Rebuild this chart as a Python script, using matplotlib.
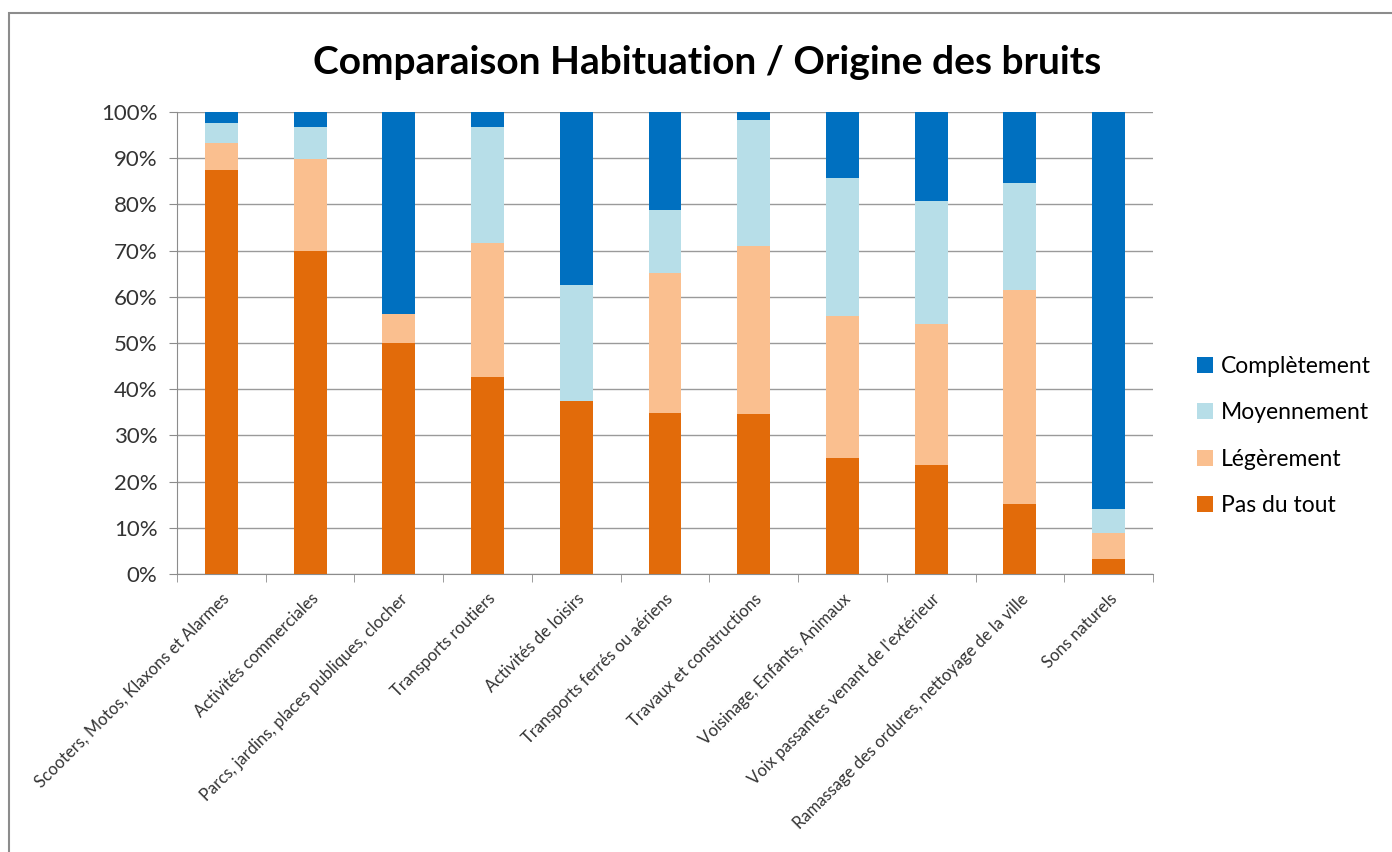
import matplotlib.pyplot as plt
import matplotlib.patches as mpatches
import numpy as np

plt.rcParams['font.family'] = ['Lato', 'DejaVu Sans']

categories = [
    "Scooters, Motos, Klaxons et Alarmes",
    "Activités commerciales",
    "Parcs, jardins, places publiques, clocher",
    "Transports routiers",
    "Activités de loisirs",
    "Transports ferrés ou aériens",
    "Travaux et constructions",
    "Voisinage, Enfants, Animaux",
    "Voix passantes venant de l'extérieur",
    "Ramassage des ordures, nettoyage de la ville",
    "Sons naturels",
]

# shares in %
pas_du_tout = [87.4, 70.0, 49.9, 42.6, 37.5, 34.8, 34.6, 25.2, 23.5, 15.2, 3.3]
legerement = [5.8, 19.9, 6.3, 29.0, 0.0, 30.3, 36.5, 30.7, 30.7, 46.3, 5.5]
moyennement = [4.4, 6.9, 0.0, 25.2, 25.0, 13.7, 27.1, 29.9, 26.5, 23.2, 5.3]
completement = [2.4, 3.2, 43.8, 3.2, 37.5, 21.2, 1.8, 14.2, 19.3, 15.3, 85.9]

series = [
    ("Pas du tout", pas_du_tout, "#E26B0A"),
    ("Légèrement", legerement, "#FABF8F"),
    ("Moyennement", moyennement, "#B7DEE8"),
    ("Complètement", completement, "#0070C0"),
]

fig = plt.figure(figsize=(13.92, 8.52), dpi=100)
ax = fig.add_axes([177 / 1392, 1 - 574 / 852, (1153 - 177) / 1392, (574 - 112) / 852])

# outer chart frame
fig.patches.append(mpatches.Rectangle((9 / 1392, -0.1), 1.2, 1 - 13 / 852 + 0.1,
                                      transform=fig.transFigure, fill=False,
                                      edgecolor="#8c8c8c", linewidth=1.5))

x = np.arange(len(categories))
bottom = np.zeros(len(categories))
handles = []
for name, vals, color in series:
    vals = np.array(vals)
    b = ax.bar(x, vals, 0.37, bottom=bottom, color=color, label=name, zorder=3)
    handles.append(b)
    bottom += vals

ax.set_xlim(-0.5, len(categories) - 0.5)
ax.set_ylim(0, 100)
ax.set_yticks(np.arange(0, 101, 10))
ax.set_yticklabels([f"{v}%" for v in range(0, 101, 10)], fontsize=16, color="#333333")
ax.yaxis.grid(True, color="#9a9a9a", linewidth=1, zorder=0)

ax.set_xticks(x)
ax.set_xticklabels(categories, rotation=45, ha="right", rotation_mode="anchor",
                   fontsize=12, color="#333333")
ax.tick_params(axis="x", length=0, pad=12)
ax.set_xticks(np.arange(-0.5, len(categories)), minor=True)
ax.tick_params(axis="x", which="minor", length=6, color="#8c8c8c")
ax.tick_params(axis="y", length=6, color="#8c8c8c", pad=8)

for side in ["top", "right"]:
    ax.spines[side].set_visible(False)
for side in ["left", "bottom"]:
    ax.spines[side].set_color("#8c8c8c")

fig.text(707 / 1392, 1 - 62 / 852, "Comparaison Habituation / Origine des bruits",
         ha="center", va="center", fontsize=28, fontweight="bold", color="black")

leg = fig.legend(handles[::-1], [s[0] for s in series][::-1], loc="center left",
                 bbox_to_anchor=(1176 / 1392, 1 - 436 / 852), frameon=False,
                 fontsize=16.5, handlelength=0.7, handleheight=0.7,
                 handletextpad=0.35, labelspacing=1.1)

fig.savefig("out.png", dpi=100)
